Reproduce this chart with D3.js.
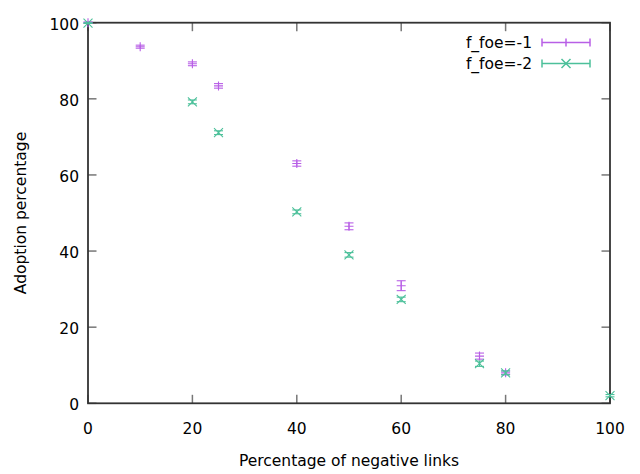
<!DOCTYPE html>
<html><head><meta charset="utf-8">
<script src="https://cdn.jsdelivr.net/npm/d3@7"></script>
<style>body{margin:0;background:#fff}svg{display:block}text{font-family:"DejaVu Sans",sans-serif;font-size:15.5px;fill:#000}</style>
</head><body><svg id="c" width="640" height="474"></svg>
<script>
const xTicks = [0,20,40,60,80,100];
const yTicks = [0,20,40,60,80,100];
const s1Name = "f_foe=-1";
const s1X = [0,10,20,25,40,50,60,75,80];
const s1Y = [100,93.7,89.2,83.4,63.0,46.5,30.9,12.4,8.0];
const s1E = [0.2,0.4,0.5,0.6,0.7,0.9,1.3,0.8,0.5];
const s2Name = "f_foe=-2";
const s2X = [0,20,25,40,50,60,75,80,100];
const s2Y = [99.9,79.2,71.1,50.3,39.0,27.3,10.4,8.0,2.0];
const s2E = [0.1,0.5,0.5,0.5,0.6,0.6,0.7,0.5,0.3];
const xLabel = "Percentage of negative links";
const yLabel = "Adoption percentage";

const svg = d3.select("#c");
const L=88,R=610,T=22.7,B=403.3;
const x = d3.scaleLinear().domain([0,100]).range([L,R]);
const y = d3.scaleLinear().domain([0,100]).range([B,T]);
const tickC="#777", tl=8.5;
const g = svg.append("g");
xTicks.forEach(v=>{
  g.append("line").attr("x1",x(v)).attr("x2",x(v)).attr("y1",B).attr("y2",B-tl).attr("stroke",tickC).attr("stroke-width",1.5);
  g.append("line").attr("x1",x(v)).attr("x2",x(v)).attr("y1",T).attr("y2",T+tl).attr("stroke",tickC).attr("stroke-width",1.5);
  g.append("text").attr("x",x(v)).attr("y",434).attr("text-anchor","middle").text(v);
});
yTicks.forEach(v=>{
  g.append("line").attr("x1",L).attr("x2",L+tl).attr("y1",y(v)).attr("y2",y(v)).attr("stroke",tickC).attr("stroke-width",1.5);
  g.append("line").attr("x1",R).attr("x2",R-tl).attr("y1",y(v)).attr("y2",y(v)).attr("stroke",tickC).attr("stroke-width",1.5);
  g.append("text").attr("x",79).attr("y",y(v)+6.8).attr("text-anchor","end").text(v);
});
g.append("rect").attr("x",L).attr("y",T).attr("width",R-L).attr("height",B-T).attr("fill","none").attr("stroke","#333").attr("stroke-width",1.8);
g.append("text").attr("x",(L+R)/2).attr("y",466).attr("text-anchor","middle").text(xLabel);
g.append("text").attr("transform",`translate(26,${(T+B)/2}) rotate(-90)`).attr("text-anchor","middle").text(yLabel);

const cw=4.5, ms=4.5;
function series(X,Y,E,color,marker){
  const sg=svg.append("g").attr("stroke",color).attr("stroke-width",1.1).attr("fill","none");
  X.forEach((xv,i)=>{
    const px=x(xv), py=y(Y[i]), lo=y(Y[i]-E[i]), hi=y(Y[i]+E[i]);
    sg.append("line").attr("x1",px).attr("x2",px).attr("y1",lo).attr("y2",hi);
    sg.append("line").attr("x1",px-cw).attr("x2",px+cw).attr("y1",lo).attr("y2",lo);
    sg.append("line").attr("x1",px-cw).attr("x2",px+cw).attr("y1",hi).attr("y2",hi);
    if(marker==="+"){
      sg.append("path").attr("d",`M${px-ms},${py}H${px+ms}M${px},${py-ms}V${py+ms}`);
    } else {
      sg.append("path").attr("d",`M${px-ms},${py-ms}L${px+ms},${py+ms}M${px-ms},${py+ms}L${px+ms},${py-ms}`);
    }
  });
}
const c1="#b85fe6", c2="#4cc09a";
series(s1X,s1Y,s1E,c1,"+");
series(s2X,s2Y,s2E,c2,"x");

function legend(name,color,ly,marker){
  svg.append("text").attr("x",532).attr("y",ly+5.8).attr("text-anchor","end").text(name);
  const lg=svg.append("g").attr("stroke",color).attr("stroke-width",1.5);
  lg.append("line").attr("x1",542).attr("x2",590).attr("y1",ly).attr("y2",ly);
  lg.append("line").attr("x1",542).attr("x2",542).attr("y1",ly-4).attr("y2",ly+4);
  lg.append("line").attr("x1",590).attr("x2",590).attr("y1",ly-4).attr("y2",ly+4);
  if(marker==="+") lg.append("path").attr("d",`M566,${ly-4}V${ly+4}`);
  else lg.append("path").attr("d",`M${566-ms},${ly-ms}L${566+ms},${ly+ms}M${566-ms},${ly+ms}L${566+ms},${ly-ms}`);
}
legend(s1Name,c1,42.5,"+");
legend(s2Name,c2,63.5,"x");
</script></body></html>
